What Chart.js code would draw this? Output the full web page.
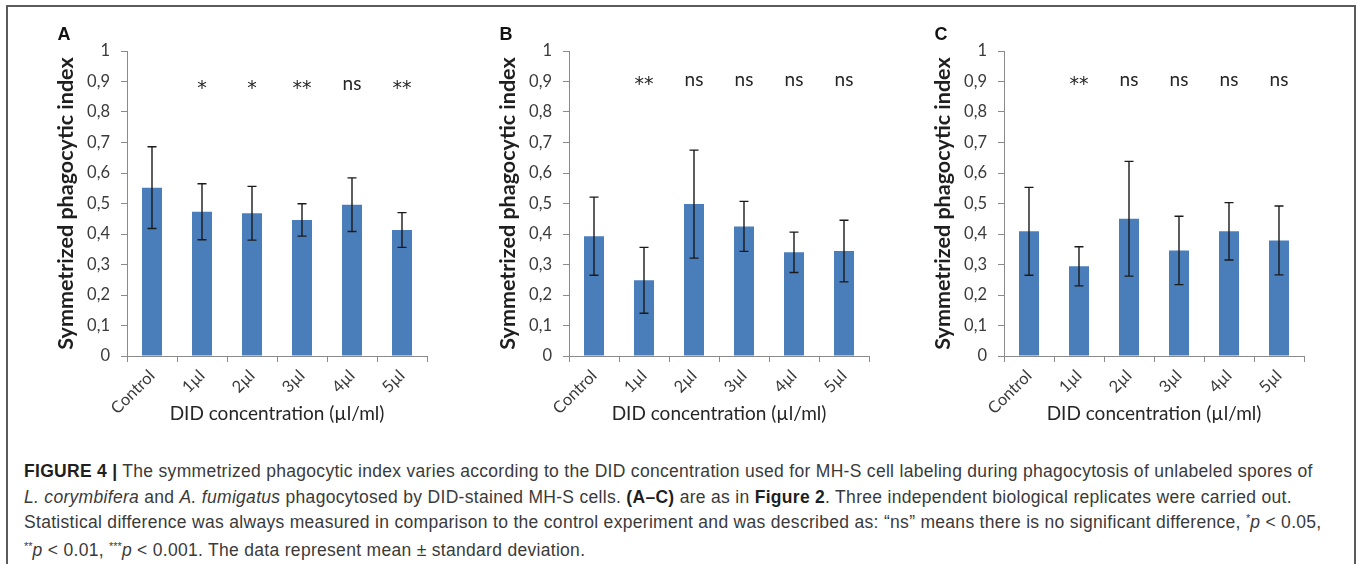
<!DOCTYPE html>
<html>
<head>
<meta charset="utf-8">
<script src="https://cdn.jsdelivr.net/npm/chart.js@4.4.0/dist/chart.umd.min.js"></script>
<style>
    html, body { margin: 0; padding: 0; background: #fff; }
    body { width: 1358px; height: 564px; position: relative; overflow: hidden; }
    .frame { position: absolute; left: 6px; top: 5px; width: 1346px; height: 620px; border: 2px solid #5b5b5b; border-bottom: none; }
    canvas { position: absolute; top: 0; }
    .caption { position: absolute; left: 24px; top: 459px; font-family: "Liberation Sans", Arial, sans-serif; font-size: 17.5px; letter-spacing: 0.3px; line-height: 25.5px; color: #3a3a3a; white-space: nowrap; }
    .caption b { color: #1f1f1f; }
    .caption .st { font-size: 11px; position: relative; top: -6px; letter-spacing: 0; }
</style>
</head>
<body>
<div class="frame"></div>
<canvas id="chartA" width="435" height="440" style="left:8px"></canvas>
<canvas id="chartB" width="435" height="440" style="left:450px"></canvas>
<canvas id="chartC" width="435" height="440" style="left:885px"></canvas>
<div class="caption">
    <b>FIGURE 4 |</b> The symmetrized phagocytic index varies according to the DID concentration used for MH-S cell labeling during phagocytosis of unlabeled spores of<br>
    <i>L. corymbifera</i> and <i>A. fumigatus</i> phagocytosed by DID-stained MH-S cells. <b>(A–C)</b> are as in <b>Figure 2</b>. Three independent biological replicates were carried out.<br>
    Statistical difference was always measured in comparison to the control experiment and was described as: “ns” means there is no significant difference, <span class="st">*</span><i>p</i> &lt; 0.05,<br>
    <span class="st">**</span><i>p</i> &lt; 0.01, <span class="st">***</span><i>p</i> &lt; 0.001. The data represent mean ± standard deviation.
</div>
<script>
const categories = ['Control', '1µl', '2µl', '3µl', '4µl', '5µl'];
const yTickLabels = ['0', '0,1', '0,2', '0,3', '0,4', '0,5', '0,6', '0,7', '0,8', '0,9', '1'];

const meansA = [0.552, 0.473, 0.468, 0.446, 0.496, 0.413];
const sdA = [0.134, 0.092, 0.088, 0.053, 0.088, 0.057];
const marksA = ['', '*', '*', '**', 'ns', '**'];

const meansB = [0.393, 0.248, 0.498, 0.425, 0.340, 0.344];
const sdB = [0.128, 0.108, 0.177, 0.082, 0.066, 0.101];
const marksB = ['', '**', 'ns', 'ns', 'ns', 'ns'];

const meansC = [0.409, 0.294, 0.450, 0.346, 0.409, 0.379];
const sdC = [0.144, 0.064, 0.188, 0.112, 0.094, 0.113];
const marksC = ['', '**', 'ns', 'ns', 'ns', 'ns'];

const BAR_COLOR = '#4a7ebb';
const AXIS_COLOR = '#8a8a8a';
const TEXT_COLOR = '#3a3a3a';

// draw text so that its visible glyph box is centred on y
const fillCentered = (ctx, text, x, y) => {
    const m = ctx.measureText(text);
    ctx.fillText(text, x, y + (m.actualBoundingBoxAscent - m.actualBoundingBoxDescent) / 2);
};

const makePanel = (canvasId, letter, means, sds, marks, markLevel) => {
    const extras = {
        id: 'extras_' + canvasId,
        afterDatasetsDraw(chart) {
            const { ctx, chartArea, scales: { x, y } } = chart;
            const meta = chart.getDatasetMeta(0);
            ctx.save();

            // error bars
            ctx.strokeStyle = '#1a1a1a';
            ctx.lineWidth = 1.4;
            meta.data.forEach((bar, i) => {
                const top = y.getPixelForValue(means[i] + sds[i]);
                const bot = y.getPixelForValue(means[i] - sds[i]);
                ctx.beginPath();
                ctx.moveTo(bar.x, top); ctx.lineTo(bar.x, bot);
                ctx.moveTo(bar.x - 4.5, top); ctx.lineTo(bar.x + 4.5, top);
                ctx.moveTo(bar.x - 4.5, bot); ctx.lineTo(bar.x + 4.5, bot);
                ctx.stroke();
            });

            // significance marks
            ctx.fillStyle = '#262626';
            ctx.textAlign = 'center';
            ctx.textBaseline = 'alphabetic';
            marks.forEach((mark, i) => {
                if (!mark) return;
                ctx.font = mark === 'ns' ? '19px Lato' : '19px "DejaVu Sans"';
                fillCentered(ctx, mark, x.getPixelForValue(i), y.getPixelForValue(markLevel));
            });

            // panel letter
            ctx.fillStyle = '#111';
            ctx.font = 'bold 18px "Liberation Sans"';
            fillCentered(ctx, letter, chartArea.left - 63, 33);
            ctx.restore();
        }
    };

    return new Chart(document.getElementById(canvasId), {
        type: 'bar',
        data: {
            labels: categories,
            datasets: [{
                data: means,
                backgroundColor: BAR_COLOR,
                borderWidth: 0,
                categoryPercentage: 1,
                barPercentage: 0.4
            }]
        },
        options: {
            responsive: false,
            animation: false,
            layout: { padding: { top: 51, left: 0, right: 16, bottom: 0 } },
            plugins: {
                legend: { display: false },
                tooltip: { enabled: false }
            },
            scales: {
                x: {
                    grid: { display: true, drawOnChartArea: false, offset: true, color: AXIS_COLOR, tickLength: 6 },
                    border: { color: AXIS_COLOR, width: 1 },
                    ticks: {
                        color: TEXT_COLOR,
                        font: { family: 'Lato', size: 16.5 },
                        minRotation: 45,
                        maxRotation: 45,
                        padding: 4
                    },
                    title: {
                        display: true,
                        text: 'DID concentration (µl/ml)',
                        color: '#262626',
                        font: { family: 'Lato', size: 19 },
                        padding: { top: 0, bottom: 15 }
                    },
                    afterFit: (scale) => { scale.height = 84; }
                },
                y: {
                    min: 0,
                    max: 1,
                    grid: { display: true, drawOnChartArea: false, color: AXIS_COLOR, tickLength: 6 },
                    border: { color: AXIS_COLOR, width: 1 },
                    ticks: {
                        stepSize: 0.1,
                        color: TEXT_COLOR,
                        font: { family: 'Lato', size: 16.5 },
                        padding: 11,
                        callback: (value, index) => yTickLabels[index]
                    },
                    title: {
                        display: true,
                        text: 'Symmetrized phagocytic index',
                        color: '#1f1f1f',
                        font: { family: 'Lato', size: 21.5, weight: 'bold' },
                        padding: { top: 45, bottom: 0 }
                    },
                    afterFit: (scale) => { scale.width = 119; }
                }
            }
        },
        plugins: [extras]
    });
};

makePanel('chartA', 'A', meansA, sdA, marksA, 0.889);
makePanel('chartB', 'B', meansB, sdB, marksB, 0.902);
makePanel('chartC', 'C', meansC, sdC, marksC, 0.902);
</script>
</body>
</html>
